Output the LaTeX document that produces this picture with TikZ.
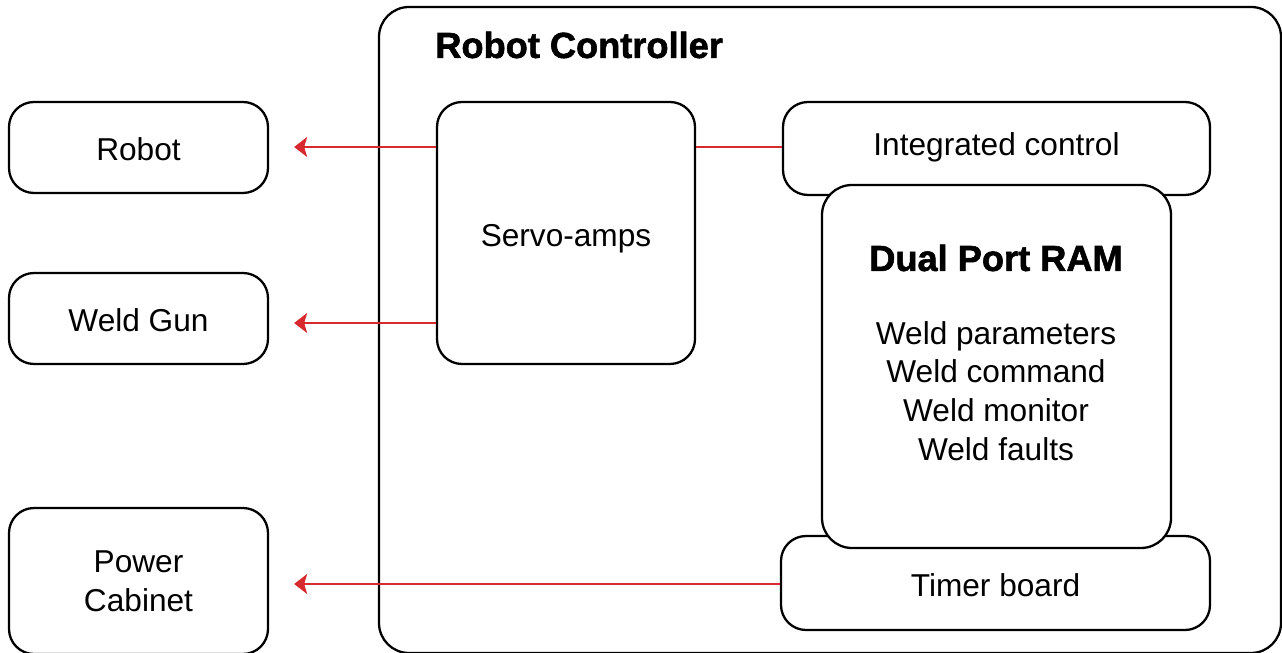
\documentclass[tikz,border=0pt]{standalone}
\usepackage{fontspec}
\setmainfont{Liberation Sans}
\newfontfamily\heavyfont[FakeBold=1.6]{Liberation Sans Bold}
\usepackage{xcolor}
\usetikzlibrary{arrows.meta, positioning, calc}

\definecolor{wirered}{HTML}{D62A2F}

\begin{document}
\begin{tikzpicture}[
    font=\fontsize{18}{22}\selectfont,
    block/.style={
        rectangle,
        draw=black,
        line width=1.3pt,
        fill=white,
        rounded corners=0.5cm,
        align=center,
        inner sep=0pt
    },
    oneline/.style={
        text height=0.57cm,
        text depth=0.04cm
    },
    wire/.style={
        draw=wirered,
        line width=1.1pt
    },
    link/.style={
        wire,
        -{Stealth[length=0.26cm, width=0.40cm, inset=0.06cm]},
        shorten >=0.5cm
    },
    heading/.style={
        font=\fontsize{20.6}{24}\selectfont\heavyfont,
        inner sep=0pt
    }
]
\useasboundingbox (0,0) rectangle (25.64,-13.06);

% The robot controller cabinet
\node[block, rounded corners=0.6cm, minimum width=18.04cm, minimum height=12.92cm] (ctrl) at (16.60,-6.60) {};
\node[heading, anchor=west] (ctrltitle) at (8.70,-0.90) {Robot Controller};

% Outside devices
\node[block, oneline, minimum width=5.18cm, minimum height=1.82cm] (robot) at (2.77,-2.95) {Robot};
\node[block, oneline, minimum width=5.18cm, minimum height=1.82cm] (gun) at (2.77,-6.37) {Weld Gun};
\node[block, minimum width=5.18cm, minimum height=2.92cm] (power) at (2.77,-11.62) {Power\\Cabinet};

% Boards inside the controller
\node[block, oneline, minimum width=5.16cm, minimum height=5.24cm] (servo) at (11.32,-4.66) {Servo-amps};
\node[block, oneline, text depth=0.21cm, text height=0.5cm, minimum width=8.54cm, minimum height=1.86cm] (integ) at (19.93,-2.97) {Integrated control};
\node[block, oneline, minimum width=8.58cm, minimum height=1.88cm] (timer) at (19.91,-11.66) {Timer board};
\node[block, rounded corners=0.6cm, minimum width=6.98cm, minimum height=7.26cm] (ram) at (19.93,-7.33) {};
\node[heading] (ramtitle) at (19.92,-5.16) {Dual Port RAM};
\node[inner sep=0pt, align=center] (ramlist) at (19.92,-7.82) {Weld parameters\\Weld command\\Weld monitor\\Weld faults};

% Connections
\draw[link] (servo.west |- 0,-2.94) -- (robot.east |- 0,-2.94);
\draw[link] (servo.west |- 0,-6.46) -- (gun.east |- 0,-6.46);
\draw[link] (timer.west |- 0,-11.68) -- (power.east |- 0,-11.68);
\draw[wire] (servo.east |- 0,-2.94) -- (integ.west |- 0,-2.94);

\end{tikzpicture}
\end{document}
